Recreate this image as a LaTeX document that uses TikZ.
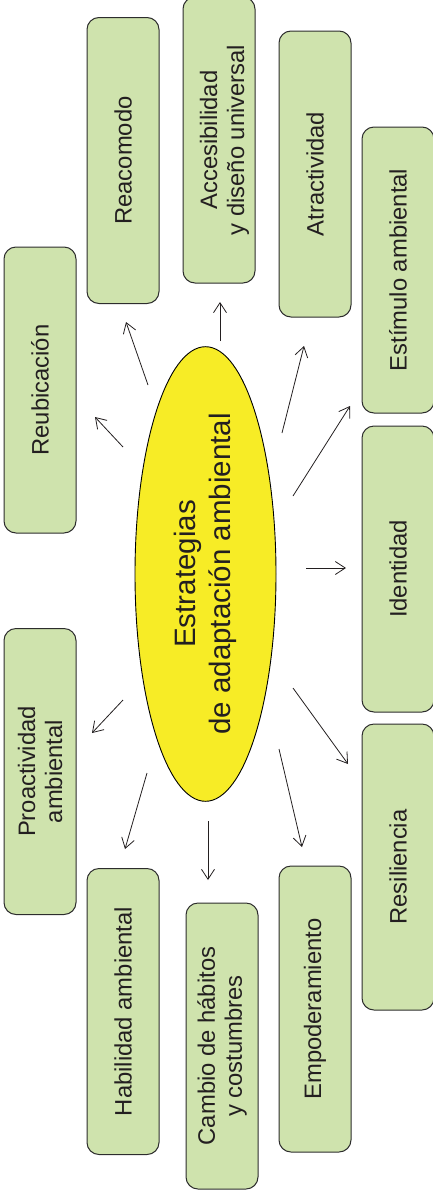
\documentclass[tikz,border=0pt]{standalone}
\usepackage{fontspec}
\setmainfont{Liberation Sans}
\usetikzlibrary{arrows.meta,shapes.geometric}
\definecolor{boxgreen}{RGB}{207,227,173}
\definecolor{boxline}{RGB}{45,45,45}
\definecolor{ellyellow}{RGB}{247,236,38}
\definecolor{ink}{RGB}{35,31,32}
\begin{document}
\begin{tikzpicture}[x=1pt,y=-1pt,
  sbox/.style={draw=boxline, fill=boxgreen, line width=1pt, rounded corners=12pt,
    rectangle, minimum width=286pt, minimum height=72pt, rotate=90, inner sep=0pt,
    align=center, font=\fontsize{23.8}{27}\selectfont, text=ink},
  centre/.style={draw=black, fill=ellyellow, line width=0.9pt, ellipse,
    minimum width=454pt, minimum height=141pt, rotate=90, inner sep=0pt,
    align=center, font=\fontsize{29.5}{35.5}\selectfont, text=ink},
  arr/.style={-{Straight Barb[length=10pt,width=13pt]}, line width=0.8pt, draw=ink}]
\useasboundingbox (0,0) rectangle (433,1197);

% central ellipse
\node[centre] (ell) at (205.5,574) {Estrategias\\de adaptación ambiental};

% boxes
\node[sbox] (reub) at (40,390) {Reubicación};
\node[sbox] (reac) at (123,160.5) {Reacomodo};
\node[sbox] (acce) at (219,140) {\rule{0pt}{28pt}Accesibilidad\\y diseño universal};
\node[sbox] (atra) at (315,174) {Atractividad};
\node[sbox] (esti) at (398,270) {Estímulo ambiental};
\node[sbox] (iden) at (398,569) {Identidad};
\node[sbox] (resi) at (398,867) {Resiliencia};
\node[sbox] (empo) at (315,1009) {Empoderamiento};
\node[sbox] (camb) at (222,1046) {Cambio de hábitos\\y costumbres};
\node[sbox] (habi) at (123,1011.5) {Habilidad ambiental};
\node[sbox] (proa) at (40,771.5) {Proactividad\\ambiental};

% arrow end points
\coordinate (s1) at (123,447);  \coordinate (e1) at (95,417);
\coordinate (s2) at (148,385);  \coordinate (e2) at (126,322);
\coordinate (s3) at (220,341);  \coordinate (e3) at (220,302);
\coordinate (s4) at (282,433);  \coordinate (e4) at (304,346);
\coordinate (s5) at (293,496);  \coordinate (e5) at (350,406);
\coordinate (s6) at (306,568);  \coordinate (e6) at (346,568);
\coordinate (s7) at (293,688);  \coordinate (e7) at (348,764);
\coordinate (s8) at (279,749);  \coordinate (e8) at (302,847);
\coordinate (s9) at (208,821);  \coordinate (e9) at (208,880);
\coordinate (s10) at (147,773); \coordinate (e10) at (125,849);
\coordinate (s11) at (123,700); \coordinate (e11) at (92,733);

\foreach \i in {1,...,11} {\draw[arr] (s\i) -- (e\i);}
\end{tikzpicture}
\end{document}
